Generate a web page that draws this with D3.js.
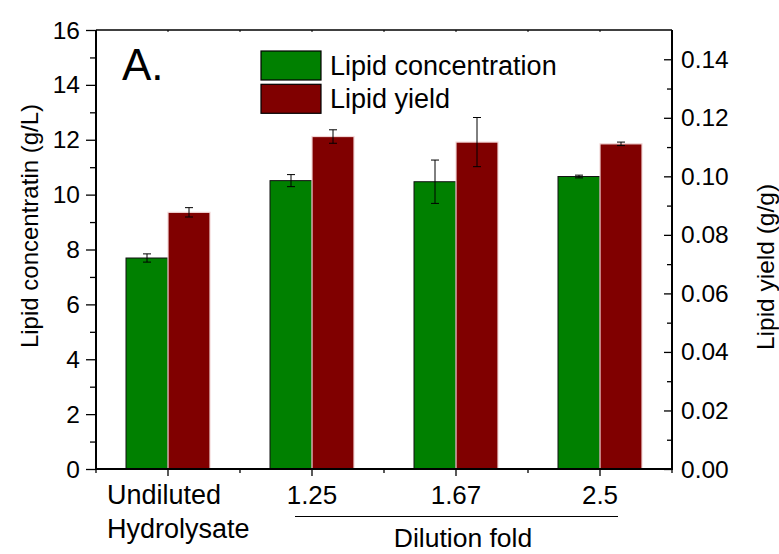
<!DOCTYPE html>
<html>
<head>
<meta charset="utf-8">
<script src="https://cdn.jsdelivr.net/npm/d3@7"></script>
<style>
  body { margin: 0; background: #fff; }
  svg text { font-family: "Liberation Sans", Arial, sans-serif; fill: #000; }
</style>
</head>
<body>
<div id="chart"></div>
<script>
const categories = ["Undiluted Hydrolysate", "1.25", "1.67", "2.5"];
const concentration = [7.69, 10.51, 10.47, 10.66];
const concentrationErr = [0.15, 0.22, 0.79, 0.05];
const lipidYield = [0.0877, 0.1136, 0.1117, 0.1111];
const lipidYieldErr = [0.0016, 0.0023, 0.0084, 0.0006];
const leftTicks = [0, 2, 4, 6, 8, 10, 12, 14, 16];
const rightTicks = [0, 0.02, 0.04, 0.06, 0.08, 0.10, 0.12, 0.14];

const width = 779, height = 554;
const plot = {left: 96, right: 672, top: 30, bottom: 469};
const barW = 42;

const svg = d3.select('#chart')
  .append('svg')
  .attr('width', width)
  .attr('height', height);

const x = d3.scaleBand()
  .domain(categories)
  .range([plot.left, plot.right])
  .padding(0);

const yL = d3.scaleLinear().domain([0, 16]).range([plot.bottom, plot.top]);
const yR = d3.scaleLinear().domain([0, 0.15]).range([plot.bottom, plot.top]);

const cx = c => x(c) + x.bandwidth() / 2;

// bars
const bars = svg.append('g').attr('class', 'bars');

bars.selectAll('rect.conc')
  .data(categories)
  .enter()
  .append('rect')
  .attr('class', 'conc')
  .attr('x', c => cx(c) - barW)
  .attr('y', (c, i) => yL(concentration[i]))
  .attr('width', barW)
  .attr('height', (c, i) => yL(0) - yL(concentration[i]))
  .attr('fill', '#008000')
  .attr('stroke', '#111')
  .attr('stroke-width', 1);

bars.selectAll('rect.yield')
  .data(categories)
  .enter()
  .append('rect')
  .attr('class', 'yield')
  .attr('x', c => cx(c))
  .attr('y', (c, i) => yR(lipidYield[i]))
  .attr('width', barW)
  .attr('height', (c, i) => yR(0) - yR(lipidYield[i]))
  .attr('fill', '#800000')
  .attr('stroke', '#f2d6d6')
  .attr('stroke-width', 1.2);

// error bars
function errorBars(cls, vals, errs, scale, dx) {
  const g = svg.append('g').attr('class', cls)
    .attr('stroke', '#000').attr('stroke-width', 1).attr('fill', 'none');
  categories.forEach((c, i) => {
    const px = cx(c) + dx;
    const hi = scale(vals[i] + errs[i]), lo = scale(vals[i] - errs[i]);
    g.append('line').attr('x1', px).attr('x2', px).attr('y1', hi).attr('y2', lo);
    g.append('line').attr('x1', px - 4).attr('x2', px + 4).attr('y1', hi).attr('y2', hi);
    g.append('line').attr('x1', px - 4).attr('x2', px + 4).attr('y1', lo).attr('y2', lo);
  });
}
errorBars('err-conc', concentration, concentrationErr, yL, -barW / 2);
errorBars('err-yield', lipidYield, lipidYieldErr, yR, barW / 2);

// left axis
const leftAxis = svg.append('g')
  .attr('transform', `translate(${plot.left},0)`)
  .call(d3.axisLeft(yL).tickValues(d3.range(0, 17, 1)).tickSize(6).tickFormat(''));
leftAxis.selectAll('.tick line')
  .attr('x2', d => d % 2 === 0 ? -10 : -6)
  .attr('stroke-width', 1.3);
leftAxis.select('.domain').remove();
svg.append('g').selectAll('text.ltick')
  .data(leftTicks)
  .enter()
  .append('text')
  .attr('class', 'ltick')
  .attr('x', plot.left - 16)
  .attr('y', d => yL(d) + 8.5)
  .attr('text-anchor', 'end')
  .attr('font-size', 24.5)
  .text(d => d);

// right axis (ticks inward)
const rightAxis = svg.append('g')
  .attr('transform', `translate(${plot.right},0)`)
  .call(d3.axisRight(yR).tickValues(d3.range(0, 0.145, 0.01)).tickFormat(''));
rightAxis.selectAll('.tick line')
  .attr('x2', (d, i) => i % 2 === 0 ? -8 : -5)
  .attr('stroke-width', 1.3);
rightAxis.select('.domain').remove();
svg.append('g').selectAll('text.rtick')
  .data(rightTicks)
  .enter()
  .append('text')
  .attr('class', 'rtick')
  .attr('x', plot.right + 9)
  .attr('y', d => yR(d) + 8.5)
  .attr('font-size', 24.5)
  .text(d => d3.format('.2f')(d));

// bottom axis
const bounds = d3.range(0, categories.length + 1).map(i => plot.left + i * x.bandwidth());
const bottomTicks = svg.append('g').attr('stroke', '#000').attr('stroke-width', 1.3);
bottomTicks.selectAll('line.major')
  .data(categories)
  .enter()
  .append('line')
  .attr('x1', cx).attr('x2', cx)
  .attr('y1', plot.bottom).attr('y2', plot.bottom + 7);
bottomTicks.selectAll('line.minor')
  .data(bounds)
  .enter()
  .append('line')
  .attr('x1', d => d).attr('x2', d => d)
  .attr('y1', plot.bottom).attr('y2', plot.bottom + 4);

// top axis small inward ticks
const topTicks = svg.append('g').attr('stroke', '#000').attr('stroke-width', 1);
topTicks.selectAll('line')
  .data(categories.map(cx).concat(bounds))
  .enter()
  .append('line')
  .attr('x1', d => d).attr('x2', d => d)
  .attr('y1', plot.top).attr('y2', plot.top + 2);

// frame
svg.append('line').attr('x1', plot.left).attr('x2', plot.right)
  .attr('y1', plot.top).attr('y2', plot.top).attr('stroke', '#000').attr('stroke-width', 1.5);
svg.append('line').attr('x1', plot.left).attr('x2', plot.right + 1)
  .attr('y1', plot.bottom).attr('y2', plot.bottom).attr('stroke', '#000').attr('stroke-width', 2);
svg.append('line').attr('x1', plot.left).attr('x2', plot.left)
  .attr('y1', plot.top).attr('y2', plot.bottom + 1).attr('stroke', '#000').attr('stroke-width', 2);
svg.append('line').attr('x1', plot.right).attr('x2', plot.right)
  .attr('y1', plot.top).attr('y2', plot.bottom + 1).attr('stroke', '#000').attr('stroke-width', 2);

// category labels
const catLabels = svg.append('g');
categories.forEach((c, i) => {
  if (i === 0) {
    const words = c.split(' ');
    const t = catLabels.append('text').attr('x', 107).attr('y', 504).attr('font-size', 27);
    words.forEach((w, j) => {
      t.append('tspan').attr('x', 107).attr('dy', j === 0 ? 0 : 34).text(w);
    });
  } else {
    catLabels.append('text')
      .attr('x', cx(c)).attr('y', 504)
      .attr('text-anchor', 'middle')
      .attr('font-size', 26)
      .text(c);
  }
});

// dilution bracket
svg.append('line')
  .attr('x1', 295).attr('x2', 618)
  .attr('y1', 516.5).attr('y2', 516.5)
  .attr('stroke', '#000').attr('stroke-width', 1);
svg.append('text')
  .attr('x', 463).attr('y', 547)
  .attr('text-anchor', 'middle')
  .attr('font-size', 26.5)
  .text('Dilution fold');

// axis titles
svg.append('text')
  .attr('transform', 'translate(38,226) rotate(-90)')
  .attr('text-anchor', 'middle')
  .attr('font-size', 24)
  .text('Lipid concentratin (g/L)');
svg.append('text')
  .attr('transform', 'translate(774,267) rotate(-90)')
  .attr('text-anchor', 'middle')
  .attr('font-size', 24.5)
  .text('Lipid yield (g/g)');

// panel letter
svg.append('text')
  .attr('x', 122).attr('y', 80)
  .attr('font-size', 44)
  .text('A.');

// legend
const legendItems = [
  {label: 'Lipid concentration', fill: '#008000'},
  {label: 'Lipid yield', fill: '#800000'}
];
const legend = svg.append('g');
legendItems.forEach((d, i) => {
  legend.append('rect')
    .attr('x', 261).attr('y', 51 + i * 33.3)
    .attr('width', 60).attr('height', 29)
    .attr('fill', d.fill)
    .attr('stroke', '#000').attr('stroke-width', 1.2);
  legend.append('text')
    .attr('x', 330).attr('y', 75 + i * 32.5)
    .attr('font-size', 27)
    .text(d.label);
});
</script>
</body>
</html>
